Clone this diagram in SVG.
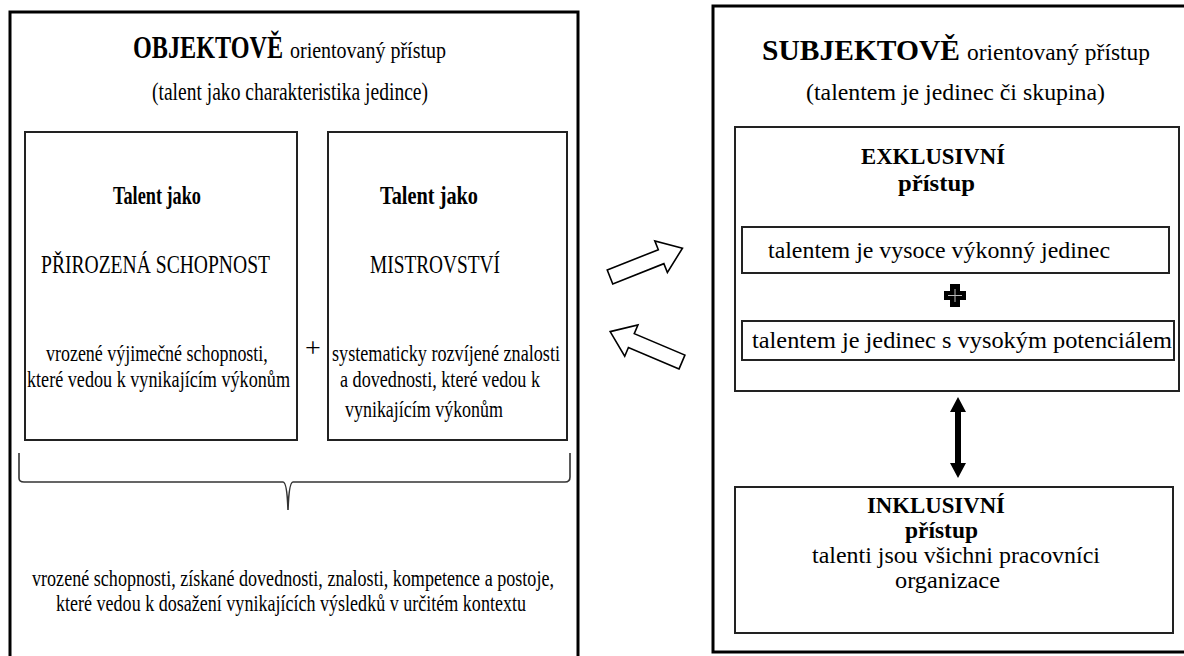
<svg xmlns="http://www.w3.org/2000/svg" width="1184" height="656" viewBox="0 0 1184 656">
<style>
.outer{fill:#fff;stroke:#000;stroke-width:3}
.inner{fill:#fff;stroke:#222;stroke-width:2}
text{font-family:"Liberation Serif","Times New Roman",serif;fill:#000}
.b{font-weight:bold}
.hollow{fill:#fff;stroke:#000;stroke-width:1.6;stroke-linejoin:miter}
</style>
<defs>
<path id="harrow" d="M0,-7.5 L55,-7.5 L55,-17 L78,0 L55,17 L55,7.5 L0,7.5 Z"/>
</defs>
<rect width="1184" height="656" fill="#fff"/>

<g id="objective">
<rect class="outer" x="10" y="12" width="568" height="660"/>
<text class="b" transform="translate(133,58) scale(0.754,1)" font-size="32" textLength="199" lengthAdjust="spacingAndGlyphs">OBJEKTOVĚ</text>
<text x="290" y="58" font-size="24" textLength="156" lengthAdjust="spacingAndGlyphs">orientovaný přístup</text>
<text x="152" y="100" font-size="25" textLength="276" lengthAdjust="spacingAndGlyphs">(talent jako charakteristika jedince)</text>
</g>

<g id="natural-ability">
<rect class="inner" x="25" y="132" width="272" height="308"/>
<text class="b" x="113" y="204" font-size="25" textLength="88" lengthAdjust="spacingAndGlyphs">Talent jako</text>
<text x="41" y="273" font-size="25" textLength="229" lengthAdjust="spacingAndGlyphs">PŘIROZENÁ  SCHOPNOST</text>
<text transform="translate(46,361) scale(0.781,1)" font-size="23" textLength="284" lengthAdjust="spacingAndGlyphs">vrozené výjimečné schopnosti,</text>
<text x="27" y="387" font-size="23" textLength="263" lengthAdjust="spacingAndGlyphs">které vedou k vynikajícím  výkonům</text>
</g>

<g id="plus-left">
<text x="313" y="357" font-size="28" text-anchor="middle">+</text>
</g>

<g id="mastery">
<rect class="inner" x="328" y="132" width="239" height="308"/>
<text class="b" x="380" y="204" font-size="25" textLength="98" lengthAdjust="spacingAndGlyphs">Talent jako</text>
<text x="370" y="273" font-size="25" textLength="130" lengthAdjust="spacingAndGlyphs">MISTROVSTVÍ</text>
<text x="332" y="361" font-size="23" textLength="228" lengthAdjust="spacingAndGlyphs">systematicky rozvíjené znalosti</text>
<text x="340" y="387" font-size="23" textLength="200" lengthAdjust="spacingAndGlyphs">a dovednosti, které vedou k</text>
<text x="345" y="417" font-size="23" textLength="158" lengthAdjust="spacingAndGlyphs">vynikajícím  výkonům</text>
</g>

<g id="combined">
<path d="M19,453 L19,478 Q19,482 24,482 L283,482 Q287,482 288,510 Q289,482 293,482 L565,482 Q570,482 570,477 L570,453" fill="none" stroke="#333" stroke-width="1.6"/>
<text x="32" y="586" font-size="23" textLength="522" lengthAdjust="spacingAndGlyphs">vrozené schopnosti, získané dovednosti, znalosti, kompetence a postoje,</text>
<text x="56" y="611" font-size="23" textLength="470" lengthAdjust="spacingAndGlyphs">které vedou k dosažení vynikajících  výsledků v určitém  kontextu</text>
</g>

<g id="subjective">
<rect class="outer" x="713" y="6" width="480" height="646"/>
<text class="b" x="762" y="60" font-size="30" textLength="198" lengthAdjust="spacingAndGlyphs">SUBJEKTOVĚ</text>
<text x="967" y="60" font-size="23.5" textLength="183" lengthAdjust="spacingAndGlyphs">orientovaný přístup</text>
<text x="806" y="100" font-size="23.5" textLength="299" lengthAdjust="spacingAndGlyphs">(talentem je jedinec či skupina)</text>
</g>

<g id="exclusive">
<rect class="inner" x="735" y="127" width="444" height="264"/>
<text class="b" x="861" y="164" font-size="23" textLength="144" lengthAdjust="spacingAndGlyphs">EXKLUSIVNÍ</text>
<text class="b" x="898" y="191" font-size="23" textLength="77" lengthAdjust="spacingAndGlyphs">přístup</text>
</g>

<g id="high-performer">
<rect class="inner" x="742" y="227" width="427" height="46"/>
<text x="768" y="258" font-size="23" textLength="342" lengthAdjust="spacingAndGlyphs">talentem je vysoce výkonný jedinec</text>
</g>

<g id="plus-right">
<path d="M950,284 L960,284 L960,291 L966,291 L966,300 L960,300 L960,307 L950,307 L950,300 L944,300 L944,291 L950,291 Z" fill="#000"/>
<path d="M955,289 L955,302 M948,295.5 L962,295.5" stroke="#bbb" stroke-width="1"/>
</g>

<g id="high-potential">
<rect class="inner" x="742" y="321" width="432" height="39"/>
<text x="752" y="348" font-size="23" textLength="420" lengthAdjust="spacingAndGlyphs">talentem je jedinec s vysokým potenciálem</text>
</g>

<g id="inclusive">
<rect class="inner" x="735" y="487" width="438" height="146"/>
<text class="b" x="867" y="513" font-size="23" textLength="138" lengthAdjust="spacingAndGlyphs">INKLUSIVNÍ</text>
<text class="b" x="905" y="538" font-size="23" textLength="73" lengthAdjust="spacingAndGlyphs">přístup</text>
<text x="812" y="563" font-size="23" textLength="288" lengthAdjust="spacingAndGlyphs">talenti jsou všichni pracovníci</text>
<text x="895" y="588" font-size="23" textLength="105" lengthAdjust="spacingAndGlyphs">organizace</text>
</g>

<g id="connectors">
<use href="#harrow" class="hollow" transform="translate(610,277) rotate(-21.7)"/>
<use href="#harrow" class="hollow" transform="translate(682,362) rotate(-157.1)"/>
<path d="M958,397 L966,412 L961,412 L961,463 L966,463 L958,478 L950,463 L955,463 L955,412 L950,412 Z" fill="#000"/>
</g>
</svg>
